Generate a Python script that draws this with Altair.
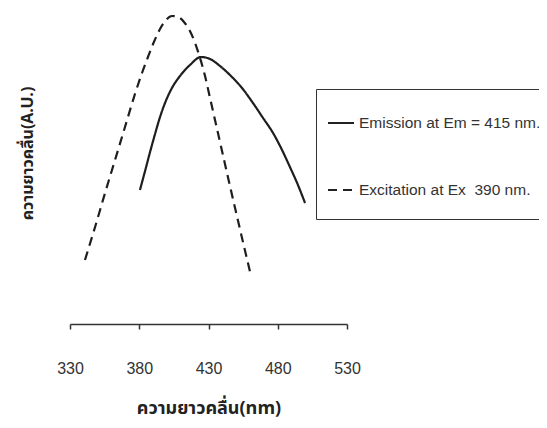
import altair as alt
import pandas as pd

# Data (wavelength in nm, relative intensity in arbitrary units)
series_names = ["Emission at Em = 415 nm.", "Excitation at Ex\u00a0 390 nm."]

ex_nm = [340.8, 348.1, 355.3, 362.5, 369.7, 376.9, 382.0, 386.3, 390.6, 395.0, 399.3, 403.6,
         408.0, 412.3, 416.6, 420.3, 423.9, 427.5, 431.1, 438.3, 445.5, 452.7, 460.0]
ex_val = [64, 97, 131, 164, 197, 230, 251, 267, 282, 295, 304, 308,
          307, 302, 293, 281, 266, 248, 226, 182, 138, 95, 52]

em_nm = [380.5, 384.2, 387.8, 391.4, 395.0, 398.6, 403.6, 409.4, 416.6, 424.6, 431.1,
         438.3, 445.5, 454.2, 462.1, 469.4, 476.6, 483.1, 488.8, 494.6, 499.7]
em_val = [134, 153, 172, 190, 207, 221, 236, 248, 259, 267, 265,
          258, 249, 236, 221, 206, 191, 174, 157, 139, 121]

x_ticks = [330, 380, 430, 480, 530]

rows = []
for i, (n, v) in enumerate(zip(em_nm, em_val)):
    rows.append({"series": series_names[0], "nm": n, "val": v, "order": i})
for i, (n, v) in enumerate(zip(ex_nm, ex_val)):
    rows.append({"series": series_names[1], "nm": n, "val": v, "order": i})
df = pd.DataFrame(rows)

thai = "Noto Sans Thai, Noto Sans, DejaVu Sans, sans-serif"
latin = "Liberation Sans, Arial, sans-serif"

chart = alt.Chart(df).mark_line(
    strokeWidth=2.2, color="#1e1e1e", interpolate="monotone"
).encode(
    x=alt.X(
        "nm:Q",
        scale=alt.Scale(domain=[330, 530], nice=False, zero=False),
        axis=alt.Axis(
            values=x_ticks,
            format="d",
            title="ความยาวคลื่น(nm)",
            titleFont=thai,
            titleFontSize=18,
            titleFontWeight="bold",
            titleColor="#222",
            titleY=89,
            titleBaseline="alphabetic",
            labelFont=latin,
            labelFontSize=16,
            labelColor="#333",
            labelPadding=39,
            labelBaseline="middle",
            labelFlush=False,
            labelOverlap=False,
            tickSize=5,
            tickColor="#333",
            tickWidth=1.5,
            domainColor="#333",
            domainWidth=1.5,
            grid=False,
        ),
    ),
    y=alt.Y(
        "val:Q",
        scale=alt.Scale(domain=[0, 312], nice=False),
        axis=alt.Axis(
            domain=False,
            ticks=False,
            labels=False,
            grid=False,
            title="ความยาวคลื่น(A.U.)",
            titleFont=thai,
            titleFontSize=16,
            titleFontWeight="bold",
            titleColor="#222",
            titleAngle=270,
            titleX=-43,
            titleY=141,
            titleAlign="center",
            titleBaseline="middle",
        ),
    ),
    strokeDash=alt.StrokeDash(
        "series:N",
        scale=alt.Scale(domain=series_names, range=[[1, 0], [9, 6]]),
        legend=alt.Legend(
            title=None,
            orient="none",
            legendX=246,
            legendY=77,
            padding=20,
            symbolOffset=-9,
            strokeColor="#333",
            symbolType="stroke",
            symbolSize=676,
            symbolStrokeWidth=2,
            symbolStrokeColor="#222",
            labelFont=latin,
            labelFontSize=15.5,
            labelColor="#333",
            labelLimit=400,
            rowPadding=44,
        ),
    ),
    order="order:Q",
).properties(
    width=277,
    height=312,
    autosize=alt.AutoSizeParams(type="none"),
    padding={"left": 62, "top": 4, "right": 192, "bottom": 96},
).configure_view(stroke=None)

chart.save("out.html", embed_options={"renderer": "svg", "actions": False})
